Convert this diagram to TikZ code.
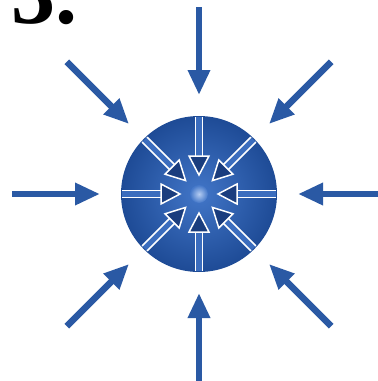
\documentclass[tikz,border=0pt]{standalone}
\usepackage{fontspec}
\setmainfont{Liberation Serif}
\usetikzlibrary{arrows.meta,calc}
\definecolor{arrowblue}{HTML}{2A59A4}
\definecolor{corein}{HTML}{4276C8}
\definecolor{coreout}{HTML}{1E4B96}
\definecolor{headnavy}{HTML}{1A3D7E}
\definecolor{sphere}{HTML}{B5CDF2}
\tikzset{
  outarrow/.style={draw=arrowblue, line width=6.5pt, -{Triangle[length=25pt,width=21pt]}},
  innerhead/.style={fill=headnavy, draw=white, line width=1.5pt, line join=miter},
  innershaft/.style={draw=white, line width=1.5pt},
}
\begin{document}
\begin{tikzpicture}[x=1pt,y=-1pt]
\useasboundingbox (0,0) rectangle (378,381);
\clip (0,0) rectangle (378,381);
\fill[white] (0,0) rectangle (378,381);
% title
\node[anchor=base west, inner sep=0pt, font=\fontsize{88}{88}\selectfont\bfseries] (title) at (11,23) {3.};
% core
\coordinate (c) at (199,194);
\node[circle, minimum size=156pt, inner sep=0pt, inner color=corein, outer color=coreout] (core) at (c) {};
% inner arrows
\foreach \a in {0,45,...,315}{
  \begin{scope}[shift={(c)}, rotate=\a]
    \begin{scope}
      \clip (0,0) circle (77);
      \fill[corein!80!coreout] (38,-3.5) rectangle (82,3.5);
      \draw[innershaft] (82,-3.5) -- (38,-3.5) (82,3.5) -- (38,3.5);
    \end{scope}
    \draw[innerhead] (38,-10) -- (19,0) -- (38,10) -- cycle;
  \end{scope}
}
% center sphere
\node[circle, minimum size=18pt, inner sep=0pt, inner color=sphere, outer color=corein] (dot) at (c) {};
% outer arrows
\foreach \a [count=\i] in {0,45,...,315}{
  \coordinate (o\i) at ($(c)+(\a:187)$);
  \coordinate (t\i) at ($(c)+(\a:99)$);
  \draw[outarrow] (o\i) -- (t\i);
}
\end{tikzpicture}
\end{document}
